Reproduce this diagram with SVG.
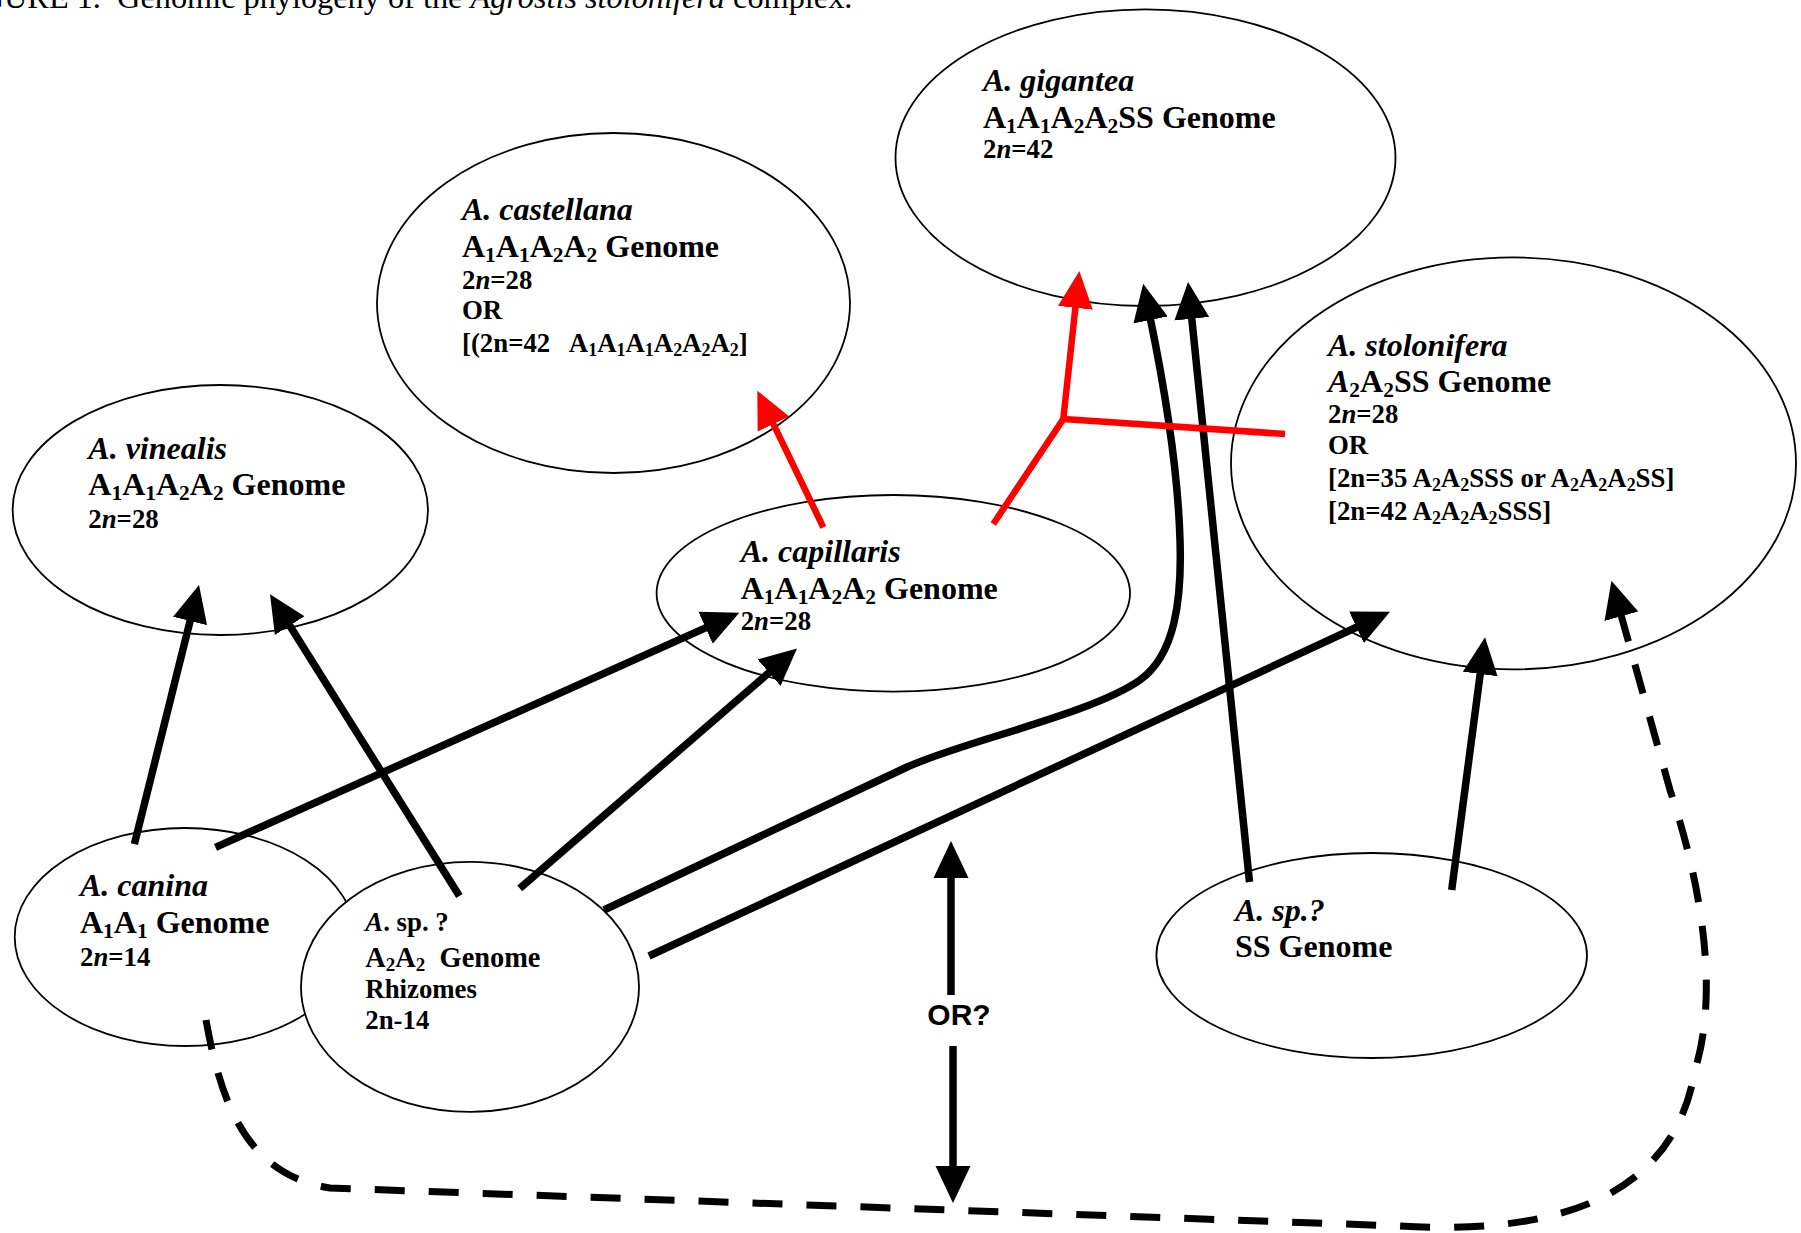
<svg xmlns="http://www.w3.org/2000/svg" width="1801" height="1233" viewBox="0 0 1801 1233">
<style>
  .node { fill: #ffffff; stroke: #000000; stroke-width: 1.8; }
  .b { font-family: "Liberation Serif", "Times New Roman", serif; font-weight: bold; font-size: 32px; fill: #000; }
  .bi { font-family: "Liberation Serif", "Times New Roman", serif; font-weight: bold; font-style: italic; font-size: 32px; fill: #000; }
  .m { font-family: "Liberation Serif", "Times New Roman", serif; font-weight: bold; font-size: 26.8px; fill: #000; }
  .i { font-style: italic; }
  .s { font-size: 67%; baseline-shift: -0.22em; }
  .cap { font-family: "Liberation Serif", "Times New Roman", serif; font-size: 32.3px; fill: #000; }
  .or { font-family: "Liberation Sans", Arial, sans-serif; font-weight: bold; font-size: 30px; fill: #000; }
  .k { fill: none; stroke: #000; stroke-width: 7.5; }
  .r { fill: none; stroke: #ff0000; stroke-width: 6.5; stroke-linejoin: miter; }
  .d { fill: none; stroke: #000; stroke-width: 7; stroke-dasharray: 30 24; }
</style>
<defs>
  <marker id="ah" markerUnits="userSpaceOnUse" viewBox="-3 -18 38 36" refX="0" refY="0" markerWidth="38" markerHeight="36" orient="auto">
    <path d="M-3,-17.5 L34,0 L-3,17.5 Z" fill="#000"/>
  </marker>
  <marker id="ahr" markerUnits="userSpaceOnUse" viewBox="-3 -18 38 36" refX="0" refY="0" markerWidth="38" markerHeight="36" orient="auto">
    <path d="M-3,-17.5 L34,0 L-3,17.5 Z" fill="#ff0000"/>
  </marker>
</defs>
<rect width="1801" height="1233" fill="#ffffff"/>

<text id="caption" class="cap" x="-48" y="8" xml:space="preserve">FIGURE 1.  Genomic phylogeny of the <tspan class="i">Agrostis stolonifera</tspan> complex.</text>

<g id="node-gigantea">
  <ellipse class="node" cx="1145.5" cy="157.7" rx="250" ry="148.3"/>
  <text class="bi" x="983" y="91">A. gigantea</text>
  <text class="b" x="983" y="128">A<tspan class="s">1</tspan>A<tspan class="s">1</tspan>A<tspan class="s">2</tspan>A<tspan class="s">2</tspan>SS Genome</text>
  <text class="m" x="983" y="158">2<tspan class="i">n</tspan>=42</text>
</g>

<g id="node-castellana">
  <ellipse class="node" cx="613.5" cy="303" rx="236.5" ry="170"/>
  <text class="bi" x="462" y="220">A. castellana</text>
  <text class="b" x="462" y="257">A<tspan class="s">1</tspan>A<tspan class="s">1</tspan>A<tspan class="s">2</tspan>A<tspan class="s">2</tspan> Genome</text>
  <text class="m" x="462" y="289">2<tspan class="i">n</tspan>=28</text>
  <text class="m" x="462" y="319">OR</text>
  <text class="m" x="462" y="352" xml:space="preserve">[(2n=42   A<tspan class="s">1</tspan>A<tspan class="s">1</tspan>A<tspan class="s">1</tspan>A<tspan class="s">2</tspan>A<tspan class="s">2</tspan>A<tspan class="s">2</tspan>]</text>
</g>

<g id="node-vinealis">
  <ellipse class="node" cx="220.3" cy="510" rx="207.7" ry="125"/>
  <text class="bi" x="88.3" y="459">A. vinealis</text>
  <text class="b" x="88.3" y="495">A<tspan class="s">1</tspan>A<tspan class="s">1</tspan>A<tspan class="s">2</tspan>A<tspan class="s">2</tspan> Genome</text>
  <text class="m" x="88.3" y="528">2<tspan class="i">n</tspan>=28</text>
</g>

<g id="node-capillaris">
  <ellipse class="node" cx="893.3" cy="593.3" rx="236.7" ry="98.3"/>
  <text class="bi" x="740.7" y="562">A. capillaris</text>
  <text class="b" x="740.7" y="599">A<tspan class="s">1</tspan>A<tspan class="s">1</tspan>A<tspan class="s">2</tspan>A<tspan class="s">2</tspan> Genome</text>
  <text class="m" x="740.7" y="630">2<tspan class="i">n</tspan>=28</text>
</g>

<g id="node-stolonifera">
  <ellipse class="node" cx="1513.5" cy="463.4" rx="282.5" ry="206"/>
  <text class="bi" x="1328" y="356">A. stolonifera</text>
  <text class="b" x="1328" y="392"><tspan class="i">A</tspan><tspan class="s">2</tspan>A<tspan class="s">2</tspan>SS Genome</text>
  <text class="m" x="1328" y="423">2<tspan class="i">n</tspan>=28</text>
  <text class="m" x="1328" y="454">OR</text>
  <text class="m" x="1328" y="487">[2n=35 A<tspan class="s">2</tspan>A<tspan class="s">2</tspan>SSS or A<tspan class="s">2</tspan>A<tspan class="s">2</tspan>A<tspan class="s">2</tspan>SS]</text>
  <text class="m" x="1328" y="520">[2n=42 A<tspan class="s">2</tspan>A<tspan class="s">2</tspan>A<tspan class="s">2</tspan>SSS]</text>
</g>

<g id="node-canina">
  <ellipse class="node" cx="185" cy="937" rx="170.3" ry="109"/>
  <text class="bi" x="80" y="896">A. canina</text>
  <text class="b" x="80" y="933">A<tspan class="s">1</tspan>A<tspan class="s">1</tspan> Genome</text>
  <text class="m" x="80" y="966">2<tspan class="i">n</tspan>=14</text>
</g>

<g id="node-sp-a2a2">
  <ellipse class="node" cx="470" cy="986.8" rx="169" ry="125"/>
  <text class="m" x="365.3" y="931"><tspan class="i">A</tspan>. sp. ?</text>
  <text class="m" x="365.3" y="967" style="font-size:28.4px" xml:space="preserve">A<tspan class="s">2</tspan>A<tspan class="s">2</tspan>  Genome</text>
  <text class="m" x="365.3" y="998">Rhizomes</text>
  <text class="m" x="365.3" y="1029">2n-14</text>
</g>

<g id="node-sp-ss">
  <ellipse class="node" cx="1371.7" cy="955.5" rx="215.3" ry="102.5"/>
  <text class="bi" x="1235" y="921">A. sp.?</text>
  <text class="b" x="1235" y="957">SS Genome</text>
</g>

<g id="connectors">
  <path class="k" d="M134.4,844.2 L190.8,618" marker-end="url(#ah)"/>
  <path class="k" d="M459.4,896 L288.1,623.1" marker-end="url(#ah)"/>
  <path class="k" d="M215.5,847.3 L708.3,626.6" marker-end="url(#ah)"/>
  <path class="k" d="M519.8,888.3 L771.3,670.7" marker-end="url(#ah)"/>
  <path class="k" d="M604,910 L905,768 C960,742 1090,715 1140,680 C1175,655 1182,600 1180,540 C1178,470 1165,390 1150,317" marker-end="url(#ah)"/>
  <path class="k" d="M649,956 L1359.2,626" marker-end="url(#ah)"/>
  <path class="k" d="M1249.5,882 L1191.5,315.8" marker-end="url(#ah)"/>
  <path class="k" d="M1451.7,890 L1480.6,671" marker-end="url(#ah)"/>
  <path class="k" d="M951,995 L951,875" marker-end="url(#ah)"/>
  <path class="k" d="M953,1046 L953,1169" marker-end="url(#ah)"/>
  <path class="r" d="M823.3,527.3 L772.1,421.3" marker-end="url(#ahr)"/>
  <path class="r" d="M993.3,524 L1063.3,419 L1075.7,304.8" marker-end="url(#ahr)"/>
  <path class="r" d="M1063.3,419 L1285,434"/>
  <path class="d" d="M206,1020 C222,1110 250,1175 330,1188 L1400,1226 C1570,1236 1675,1190 1695,1070 C1720,990 1700,880 1670,790 L1620.6,613.4" marker-end="url(#ah)"/>
  <text class="or" x="959" y="1025" text-anchor="middle">OR?</text>
</g>
</svg>
